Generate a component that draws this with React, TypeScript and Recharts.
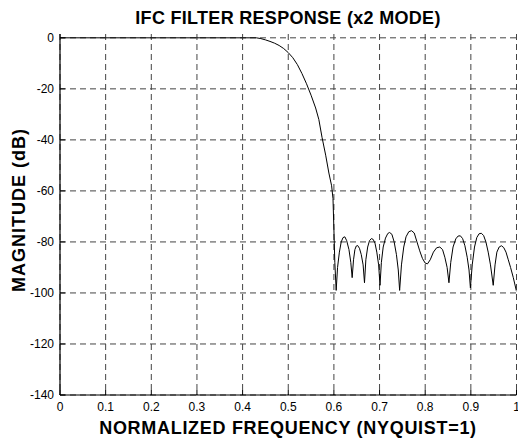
import React from "react";
import { LineChart, Line, XAxis, YAxis, CartesianGrid } from "recharts";

const freq: number[] = [
  0, 0.1, 0.2, 0.3, 0.4, 0.43, 0.44, 0.45, 0.46, 0.47, 0.48, 0.49, 0.5, 0.51, 0.52, 0.53, 0.54, 0.55, 0.56,
  0.567, 0.574, 0.582, 0.589, 0.595, 0.598, 0.6, 0.602, 0.605,
  0.608, 0.612, 0.616, 0.62, 0.624, 0.628, 0.633, 0.637, 0.64,
  0.643, 0.646, 0.649, 0.652, 0.656, 0.66, 0.664, 0.667,
  0.67, 0.674, 0.678, 0.682, 0.686, 0.69, 0.694, 0.698, 0.701,
  0.704, 0.708, 0.713, 0.718, 0.722, 0.727, 0.732, 0.737, 0.741, 0.744,
  0.748, 0.753, 0.758, 0.764, 0.77, 0.776, 0.782, 0.788, 0.794, 0.8, 0.805,
  0.811, 0.818, 0.825, 0.832, 0.838, 0.843, 0.848, 0.852,
  0.856, 0.861, 0.867, 0.872, 0.877, 0.882, 0.887, 0.892, 0.896, 0.899,
  0.903, 0.908, 0.913, 0.918, 0.923, 0.928, 0.933, 0.938, 0.943, 0.949,
  0.953, 0.957, 0.962, 0.967, 0.972, 0.977, 0.982, 0.987, 0.993, 1.0,
];

const magnitude: number[] = [
  0, 0, 0, 0, 0, 0, -0.3, -0.8, -1.4, -2.1, -3.0, -4.2, -5.8, -7.8, -10.5, -14, -18, -22.5, -27.5,
  -32, -39, -46, -53, -58, -63, -75, -88, -99,
  -90, -84, -80, -78.3, -78, -79.5, -83, -88, -94,
  -87, -83, -81.6, -81.4, -82.5, -85, -89, -96,
  -87, -82, -79.5, -78.7, -79, -80.5, -84, -89, -97,
  -88, -82, -78.5, -76.7, -76.3, -77, -80, -85, -91, -99,
  -89, -82, -78, -76, -75.6, -76.5, -80, -83.5, -86.5, -88.3, -88.6,
  -87, -84, -82.3, -82, -83, -86, -90, -96,
  -88, -82, -78.8, -77.7, -77.6, -78.7, -81.5, -86, -91, -98,
  -89, -82, -78.3, -76.8, -76.6, -77.5, -80, -84, -89, -97,
  -89, -84, -82, -81.5, -82.2, -84, -87, -90, -94, -99.4,
];

const xTicks: number[] = [0, 0.1, 0.2, 0.3, 0.4, 0.5, 0.6, 0.7, 0.8, 0.9, 1];
const yTicks: number[] = [0, -20, -40, -60, -80, -100, -120, -140];

const title = "IFC FILTER RESPONSE (x2 MODE)";
const xLabel = "NORMALIZED FREQUENCY (NYQUIST=1)";
const yLabel = "MAGNITUDE (dB)";

const data = freq.map((f, i) => ({ f, db: magnitude[i] }));

const FONT = "'Liberation Sans', Arial, sans-serif";

const BottomTick = (props: any) => {
  const { x, y, payload } = props;
  return (
    <g>
      <line x1={x} y1={y} x2={x} y2={y - 5} stroke="#000" strokeWidth={1} />
      <text x={x} y={y + 16} textAnchor="middle" fontSize={12} fontFamily={FONT} fill="#000">
        {String(payload.value)}
      </text>
    </g>
  );
};

const TopTick = (props: any) => {
  const { x, y } = props;
  return <line x1={x} y1={y} x2={x} y2={y + 5} stroke="#000" strokeWidth={1} />;
};

const LeftTick = (props: any) => {
  const { x, y, payload } = props;
  return (
    <g>
      <line x1={x} y1={y} x2={x + 5} y2={y} stroke="#000" strokeWidth={1} />
      <text x={x - 6} y={y + 4} textAnchor="end" fontSize={12} fontFamily={FONT} fill="#000">
        {String(payload.value)}
      </text>
    </g>
  );
};

const RightTick = (props: any) => {
  const { x, y } = props;
  return <line x1={x} y1={y} x2={x - 5} y2={y} stroke="#000" strokeWidth={1} />;
};

export default function App() {
  return (
    <div style={{ position: "absolute", left: 0, top: 0, width: 518, height: 442, background: "#fff" }}>
      <LineChart
        width={518}
        height={442}
        data={data}
        margin={{ top: 34, right: 1.5, bottom: 0, left: 0 }}
      >
        <CartesianGrid
          xAxisId="b"
          yAxisId="l"
          stroke="#444"
          strokeDasharray="6 4"
          horizontalValues={yTicks}
          verticalValues={xTicks}
        />
        <XAxis
          xAxisId="b"
          dataKey="f"
          type="number"
          domain={[0, 1]}
          ticks={xTicks}
          orientation="bottom"
          height={47}
          tickSize={0}
          tickMargin={0}
          tickLine={false}
          axisLine={{ stroke: "#000", strokeWidth: 1.2 }}
          tick={<BottomTick />}
          interval={0}
          allowDataOverflow
        />
        <XAxis
          xAxisId="t"
          dataKey="f"
          type="number"
          domain={[0, 1]}
          ticks={xTicks}
          orientation="top"
          height={0}
          tickSize={0}
          tickMargin={0}
          tickLine={false}
          axisLine={{ stroke: "#000", strokeWidth: 1.2 }}
          tick={<TopTick />}
          interval={0}
          allowDataOverflow
        />
        <YAxis
          yAxisId="l"
          type="number"
          domain={[-140, 1.5]}
          ticks={yTicks}
          orientation="left"
          width={60}
          tickSize={0}
          tickMargin={0}
          tickLine={false}
          axisLine={{ stroke: "#000", strokeWidth: 1.2 }}
          tick={<LeftTick />}
          interval={0}
          allowDataOverflow
        />
        <YAxis
          yAxisId="r"
          type="number"
          domain={[-140, 1.5]}
          ticks={yTicks}
          orientation="right"
          width={0}
          tickSize={0}
          tickMargin={0}
          tickLine={false}
          axisLine={{ stroke: "#000", strokeWidth: 1.2 }}
          tick={<RightTick />}
          interval={0}
          allowDataOverflow
        />
        <Line
          xAxisId="b"
          yAxisId="l"
          type="linear"
          dataKey="db"
          stroke="#000"
          strokeWidth={1}
          dot={false}
          isAnimationActive={false}
        />
        <text x={288} y={24} textAnchor="middle" fontSize={18} letterSpacing={0.3} fontWeight="bold" fontFamily={FONT} fill="#000">
          {title}
        </text>
        <text x={288} y={434} textAnchor="middle" fontSize={18} letterSpacing={0.7} fontWeight="bold" fontFamily={FONT} fill="#000">
          {xLabel}
        </text>
        <text
          x={25}
          y={210}
          textAnchor="middle"
          fontSize={18}
          letterSpacing={1}
          fontWeight="bold"
          fontFamily={FONT}
          fill="#000"
          transform="rotate(-90 25 210)"
        >
          {yLabel}
        </text>
      </LineChart>
    </div>
  );
}
